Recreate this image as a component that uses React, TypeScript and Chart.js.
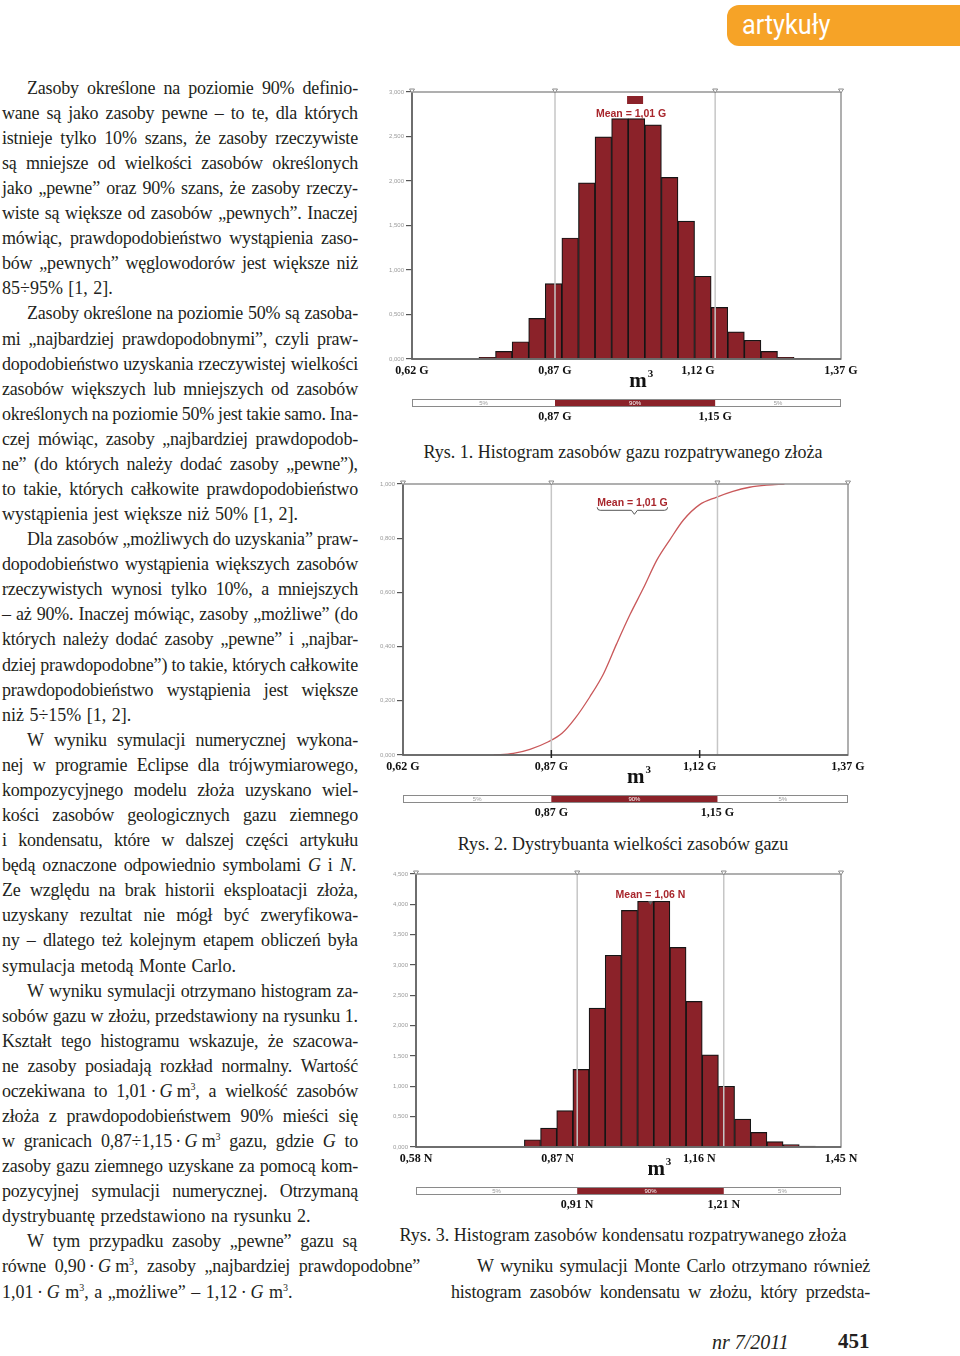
import React, { useEffect, useRef } from "react";
import { Chart, registerables } from "chart.js";
Chart.register(...registerables);

const BAR_RED = "#8B2229";
const MEAN_RED = "#A8262C";

// ---------- Rys. 1: histogram of gas resources ----------
const gasBinCenters = [0.7515, 0.7805, 0.8095, 0.8385, 0.8675, 0.8965, 0.9255, 0.9545, 0.9835, 1.0125, 1.0415, 1.0705, 1.0995, 1.1285, 1.1575, 1.1865, 1.2155, 1.2445, 1.2735, 1.3025];
const gasFrequencies = [0.02, 0.086, 0.194, 0.456, 0.848, 1.36, 1.98, 2.495, 2.7, 2.7, 2.63, 2.04, 1.55, 0.93, 0.58, 0.306, 0.21, 0.086, 0.02, 0.008];
const gasAxisTicks = [0.62, 0.87, 1.12, 1.37];
const gasPercentiles = [0.87, 1.15];
const gasMean = 1.01;
const gasYAxis = [0, 3, 0.5];

// ---------- Rys. 2: cumulative distribution of gas resources ----------
const cdfX = [0.773, 0.806, 0.834, 0.865, 0.888, 0.91, 0.935, 0.958, 0.98, 1.003, 1.025, 1.048, 1.07, 1.093, 1.12, 1.148, 1.176, 1.204, 1.233, 1.263];
const cdfY = [0.0, 0.006, 0.021, 0.049, 0.08, 0.135, 0.215, 0.3, 0.41, 0.52, 0.615, 0.72, 0.795, 0.868, 0.924, 0.951, 0.973, 0.988, 0.996, 1.0];
const cdfAxisTicks = [0.62, 0.87, 1.12, 1.37];
const cdfPercentiles = [0.87, 1.15];
const cdfInnerTicks = [0.87, 1.12];
const cdfMean = 1.01;
const cdfYAxis = [0, 1, 0.2];

// ---------- Rys. 3: histogram of condensate resources ----------
const condBinCenters = [0.8184, 0.8515, 0.8846, 0.9177, 0.9508, 0.9839, 1.017, 1.0501, 1.0832, 1.1163, 1.1494, 1.1825, 1.2156, 1.2487, 1.2818, 1.3149, 1.348, 1.3811];
const condFrequencies = [0.12, 0.31, 0.6, 1.28, 2.29, 3.16, 3.9, 4.05, 4.05, 3.29, 2.4, 1.52, 1.0, 0.46, 0.24, 0.088, 0.04, 0.015];
const condAxisTicks = [0.58, 0.87, 1.16, 1.45];
const condPercentiles = [0.91, 1.21];
const condMean = 1.06;
const condYAxis = [0, 4.5, 0.5];

const fmt = (v: number, d = 2) => Number(v).toFixed(d).replace(".", ",");

const decorPlugin = {
  id: "decor",
  afterDatasetsDraw(chart: any, _args: any, o: any) {
    const { ctx, chartArea: ca } = chart;
    const xs = chart.scales.x;
    const px = (v: number) => xs.getPixelForValue(v);
    const xLo = px(o.percentiles[0]);
    const xHi = px(o.percentiles[1]);
    ctx.save();
    // percentile lines
    ctx.strokeStyle = "#c6c6c6";
    ctx.lineWidth = 1.5;
    [xLo, xHi].forEach((x) => {
      ctx.beginPath();
      ctx.moveTo(x, ca.top);
      ctx.lineTo(x, ca.bottom);
      ctx.stroke();
    });
    // frame
    ctx.strokeStyle = "#959595";
    ctx.lineWidth = 1.5;
    ctx.strokeRect(ca.left, ca.top, ca.right - ca.left, ca.bottom - ca.top);
    ctx.strokeStyle = "#5a5a5a";
    ctx.beginPath();
    ctx.moveTo(ca.left, ca.top);
    ctx.lineTo(ca.left, ca.bottom);
    ctx.lineTo(ca.right, ca.bottom);
    ctx.stroke();
    // top markers
    ctx.lineWidth = 1;
    ctx.strokeStyle = "#8a8a8a";
    [ca.left, xLo, xHi, ca.right].forEach((x) => {
      ctx.beginPath();
      ctx.moveTo(x - 2.5, ca.top - 3);
      ctx.lineTo(x + 2.5, ca.top - 3);
      ctx.lineTo(x, ca.top + 1);
      ctx.closePath();
      ctx.fillStyle = "#fff";
      ctx.fill();
      ctx.stroke();
    });
    // inner ticks on x axis
    (o.innerTicks || []).forEach((v: number) => {
      const x = px(v);
      ctx.strokeStyle = "#222";
      ctx.lineWidth = 1.5;
      ctx.beginPath();
      ctx.moveTo(x, ca.bottom - 5);
      ctx.lineTo(x, ca.bottom + 3);
      ctx.stroke();
    });
    // mean label
    const mx = px(o.mean);
    const tx = mx + o.meanDx;
    ctx.font = 'bold 10.5px "Liberation Sans", Arial, sans-serif';
    ctx.textAlign = "center";
    ctx.textBaseline = "middle";
    ctx.fillStyle = MEAN_RED;
    ctx.fillText(o.meanText, tx, ca.top + o.meanDy);
    const tw = ctx.measureText(o.meanText).width;
    if (o.meanStyle === "box") {
      ctx.fillStyle = BAR_RED;
      ctx.fillRect(mx - 8, ca.top + 4, 16, 8);
    } else if (o.meanStyle === "brace") {
      const y = ca.top + o.meanDy + 7;
      const x0 = tx - tw / 2;
      const x1 = tx + tw / 2;
      ctx.strokeStyle = "#555";
      ctx.lineWidth = 1;
      ctx.beginPath();
      ctx.moveTo(x0, y - 3);
      ctx.quadraticCurveTo(x0, y, x0 + 3, y);
      ctx.lineTo(mx - 3, y);
      ctx.lineTo(mx, y + 4);
      ctx.lineTo(mx + 3, y);
      ctx.lineTo(x1 - 3, y);
      ctx.quadraticCurveTo(x1, y, x1, y - 3);
      ctx.stroke();
    } else if (o.meanStyle === "tick") {
      const y = ca.top + o.meanDy + 6;
      ctx.fillStyle = "#666";
      ctx.beginPath();
      ctx.moveTo(mx - 2.5, y);
      ctx.lineTo(mx + 2.5, y);
      ctx.lineTo(mx, y + 4);
      ctx.closePath();
      ctx.fill();
    }
    // m^3
    const mX = ca.left + (ca.right - ca.left) * o.mFrac;
    const mY = ca.bottom + 28;
    ctx.fillStyle = "#111";
    ctx.textBaseline = "alphabetic";
    ctx.font = 'bold 21px "Liberation Serif", "Times New Roman", serif';
    ctx.textAlign = "center";
    ctx.fillText("m", mX, mY);
    const mw = ctx.measureText("m").width;
    ctx.font = 'bold 11px "Liberation Serif", "Times New Roman", serif';
    ctx.textAlign = "left";
    ctx.fillText("3", mX + mw / 2 + 1, mY - 10);
    // percentile bar
    const by = ca.bottom + 40;
    const bh = 8;
    ctx.fillStyle = "#fff";
    ctx.fillRect(ca.left, by, ca.right - ca.left, bh);
    ctx.fillStyle = BAR_RED;
    ctx.fillRect(xLo, by, xHi - xLo, bh);
    ctx.strokeStyle = "#8a8a8a";
    ctx.lineWidth = 1;
    ctx.strokeRect(ca.left + 0.5, by + 0.5, ca.right - ca.left - 1, bh - 1);
    ctx.font = '6px "Liberation Sans", Arial, sans-serif';
    ctx.textAlign = "center";
    ctx.textBaseline = "middle";
    ctx.fillStyle = "#999";
    ctx.fillText("5%", (ca.left + xLo) / 2, by + bh / 2);
    ctx.fillText("5%", (xHi + ca.right) / 2, by + bh / 2);
    ctx.fillStyle = "#fff";
    ctx.fillText("90%", (xLo + xHi) / 2, by + bh / 2);
    ctx.fillStyle = "#111";
    ctx.font = 'bold 12px "Liberation Serif", "Times New Roman", serif';
    ctx.fillText(fmt(o.percentiles[0]) + " " + o.unit, xLo, ca.bottom + 58);
    ctx.fillText(fmt(o.percentiles[1]) + " " + o.unit, xHi, ca.bottom + 58);
    ctx.restore();
  },
};

function xAxis(ticksArr: number[], unit: string, height: number) {
  return {
    type: "linear",
    min: ticksArr[0],
    max: ticksArr[ticksArr.length - 1],
    offset: false,
    afterBuildTicks: (s: any) => {
      s.ticks = ticksArr.map((v) => ({ value: v }));
    },
    ticks: {
      autoSkip: false,
      maxRotation: 0,
      color: "#111",
      padding: 5,
      font: { family: '"Liberation Serif", "Times New Roman", serif', weight: "bold", size: 12 },
      callback: (v: number) => fmt(v) + " " + unit,
    },
    grid: { display: false, drawTicks: false, offset: false },
    border: { display: false },
    afterFit: (s: any) => {
      s.height = height;
      s.paddingLeft = 0;
      s.paddingRight = 0;
    },
  };
}

function yAxis(range: number[], width: number) {
  return {
    min: range[0],
    max: range[1],
    ticks: {
      stepSize: range[2],
      color: "#9a9a9a",
      padding: 2,
      font: { family: '"Liberation Sans", Arial, sans-serif', size: 6 },
      callback: (v: number) => fmt(v, 3),
    },
    grid: { drawOnChartArea: false, drawTicks: true, tickLength: 6, color: "#555", lineWidth: 1.2 },
    border: { display: false },
    afterFit: (s: any) => {
      s.width = width;
      s.paddingTop = 0;
      s.paddingBottom = 0;
    },
  };
}

function histConfig(centers: number[], freqs: number[], xTicks: number[], yRange: number[], unit: string, yWidth: number, pad: any, xHeight: number, decor: any) {
  return {
    type: "bar",
    data: {
      datasets: [
        {
          data: centers.map((c, i) => ({ x: c, y: freqs[i] })),
          backgroundColor: BAR_RED,
          borderColor: "#151515",
          borderWidth: 1.2,
          barPercentage: 1,
          categoryPercentage: 1,
        },
      ],
    },
    options: {
      responsive: true,
      maintainAspectRatio: false,
      animation: false,
      layout: { autoPadding: false, padding: pad },
      plugins: { legend: { display: false }, tooltip: { enabled: false }, decor },
      scales: { x: xAxis(xTicks, unit, xHeight), y: yAxis(yRange, yWidth) },
    },
    plugins: [decorPlugin],
  };
}

function cdfConfig() {
  return {
    type: "line",
    data: {
      datasets: [
        {
          data: cdfX.map((x, i) => ({ x, y: cdfY[i] })),
          borderColor: "#C9585A",
          borderWidth: 1.3,
          pointRadius: 0,
          fill: false,
          cubicInterpolationMode: "monotone",
        },
      ],
    },
    options: {
      responsive: true,
      maintainAspectRatio: false,
      animation: false,
      layout: { autoPadding: false, padding: { top: 14, right: 32, bottom: 0, left: 0 } },
      plugins: {
        legend: { display: false },
        tooltip: { enabled: false },
        decor: {
          percentiles: cdfPercentiles,
          innerTicks: cdfInnerTicks,
          mean: cdfMean,
          meanText: "Mean = " + fmt(cdfMean) + " G",
          meanStyle: "brace",
          meanDx: -2,
          meanDy: 19.3,
          mFrac: 0.523,
          unit: "G",
        },
      },
      scales: { x: xAxis(cdfAxisTicks, "G", 70), y: yAxis(cdfYAxis, 23) },
    },
    plugins: [decorPlugin],
  };
}

function ChartBox({ left, top, width, height, config }: any) {
  const ref = useRef<HTMLCanvasElement>(null);
  useEffect(() => {
    const c = new Chart(ref.current as HTMLCanvasElement, config);
    return () => c.destroy();
  }, []);
  return (
    <div style={{ position: "absolute", left, top, width, height }}>
      <canvas ref={ref} />
    </div>
  );
}

const ROW0 = 75.7;
const ROWH = 25.08;
// [row, left, width, justified, text]
const bodyLines: [number, number, number, boolean, string][] = [
  [0, 27, 331, true, "Zasoby określone na poziomie 90% definio-"],
  [1, 2, 356, true, "wane są jako zasoby pewne – to te, dla których"],
  [2, 2, 356, true, "istnieje tylko 10% szans, że zasoby rzeczywiste"],
  [3, 2, 356, true, "są mniejsze od wielkości zasobów określonych"],
  [4, 2, 356, true, "jako „pewne” oraz 90% szans, że zasoby rzeczy-"],
  [5, 2, 356, true, "wiste są większe od zasobów „pewnych”. Inaczej"],
  [6, 2, 356, true, "mówiąc, prawdopodobieństwo wystąpienia zaso-"],
  [7, 2, 356, true, "bów „pewnych” węglowodorów jest większe niż"],
  [8, 2, 356, false, "85÷95% [1, 2]."],
  [9, 27, 331, true, "Zasoby określone na poziomie 50% są zasoba-"],
  [10, 2, 356, true, "mi „najbardziej prawdopodobnymi”, czyli praw-"],
  [11, 2, 356, true, "dopodobieństwo uzyskania rzeczywistej wielkości"],
  [12, 2, 356, true, "zasobów większych lub mniejszych od zasobów"],
  [13, 2, 356, true, "określonych na poziomie 50% jest takie samo. Ina-"],
  [14, 2, 356, true, "czej mówiąc, zasoby „najbardziej prawdopodob-"],
  [15, 2, 356, true, "ne” (do których należy dodać zasoby „pewne”),"],
  [16, 2, 356, true, "to takie, których całkowite prawdopodobieństwo"],
  [17, 2, 356, false, "wystąpienia jest większe niż 50% [1, 2]."],
  [18, 27, 331, true, "Dla zasobów „możliwych do uzyskania” praw-"],
  [19, 2, 356, true, "dopodobieństwo wystąpienia większych zasobów"],
  [20, 2, 356, true, "rzeczywistych wynosi tylko 10%, a mniejszych"],
  [21, 2, 356, true, "– aż 90%. Inaczej mówiąc, zasoby „możliwe” (do"],
  [22, 2, 356, true, "których należy dodać zasoby „pewne” i „najbar-"],
  [23, 2, 356, true, "dziej prawdopodobne”) to takie, których całkowite"],
  [24, 2, 356, true, "prawdopodobieństwo wystąpienia jest większe"],
  [25, 2, 356, false, "niż 5÷15% [1, 2]."],
  [26, 27, 331, true, "W wyniku symulacji numerycznej wykona-"],
  [27, 2, 356, true, "nej w programie Eclipse dla trójwymiarowego,"],
  [28, 2, 356, true, "kompozycyjnego modelu złoża uzyskano wiel-"],
  [29, 2, 356, true, "kości zasobów geologicznych gazu ziemnego"],
  [30, 2, 356, true, "i kondensatu, które w dalszej części artykułu"],
  [31, 2, 354, true, "będą oznaczone odpowiednio symbolami _G_ i _N_."],
  [32, 2, 356, true, "Ze względu na brak historii eksploatacji złoża,"],
  [33, 2, 356, true, "uzyskany rezultat nie mógł być zweryfikowa-"],
  [34, 2, 356, true, "ny – dlatego też kolejnym etapem obliczeń była"],
  [35, 2, 356, false, "symulacja metodą Monte Carlo."],
  [36, 27, 331, true, "W wyniku symulacji otrzymano histogram za-"],
  [37, 2, 356, true, "sobów gazu w złożu, przedstawiony na rysunku 1."],
  [38, 2, 356, true, "Kształt tego histogramu wskazuje, że szacowa-"],
  [39, 2, 356, true, "ne zasoby posiadają rozkład normalny. Wartość"],
  [40, 2, 356, true, "oczekiwana to 1,01\u2009·\u2009_G_\u00a0m^3, a wielkość zasobów"],
  [41, 2, 356, true, "złoża z prawdopodobieństwem 90% mieści się"],
  [42, 2, 356, true, "w granicach 0,87÷1,15\u2009·\u2009_G_\u00a0m^3 gazu, gdzie _G_ to"],
  [43, 2, 356, true, "zasoby gazu ziemnego uzyskane za pomocą kom-"],
  [44, 2, 356, true, "pozycyjnej symulacji numerycznej. Otrzymaną"],
  [45, 2, 356, false, "dystrybuantę przedstawiono na rysunku 2."],
  [46, 27, 330, true, "W tym przypadku zasoby „pewne” gazu są"],
  [47, 2, 418, true, "równe 0,90\u2009·\u2009_G_\u00a0m^3, zasoby „najbardziej prawdopodobne”"],
  [48, 2, 356, false, "1,01\u2009·\u2009_G_\u00a0m^3, a „możliwe” – 1,12\u2009·\u2009_G_\u00a0m^3."],
  [47, 477, 393, true, "W wyniku symulacji Monte Carlo otrzymano również"],
  [48, 451, 419, true, "histogram zasobów kondensatu w złożu, który przedsta-"],
];

function rich(s: string) {
  const parts = s.split(/(_[A-Z]_|\^3)/);
  return parts.map((p, i) => {
    if (p === "^3")
      return (
        <span key={i} style={{ fontSize: 10, position: "relative", top: -7 }}>
          3
        </span>
      );
    if (/^_[A-Z]_$/.test(p)) return <i key={i}>{p[1]}</i>;
    return <React.Fragment key={i}>{p}</React.Fragment>;
  });
}

export default function App() {
  const serif = '"Liberation Serif", "Times New Roman", serif';
  const chart1 = histConfig(gasBinCenters, gasFrequencies, gasAxisTicks, gasYAxis, "G", 32, { top: 12, right: 39, bottom: 0, left: 0 }, 71, {
    percentiles: gasPercentiles,
    mean: gasMean,
    meanText: "Mean = " + fmt(gasMean) + " G",
    meanStyle: "box",
    meanDx: -4,
    meanDy: 21.7,
    mFrac: 0.527,
    unit: "G",
  });
  const chart3 = histConfig(condBinCenters, condFrequencies, condAxisTicks, condYAxis, "N", 36, { top: 14, right: 39, bottom: 0, left: 0 }, 73, {
    percentiles: condPercentiles,
    mean: condMean,
    meanText: "Mean = " + fmt(condMean) + " N",
    meanStyle: "tick",
    meanDx: 0,
    meanDy: 21,
    mFrac: 0.565,
    unit: "N",
  });
  const chart2 = cdfConfig();

  return (
    <div
      style={{
        position: "absolute",
        left: 0,
        top: 0,
        width: 960,
        height: 1356,
        overflow: "hidden",
        background: "#fff",
        fontFamily: serif,
        fontSize: 18,
        lineHeight: "25px",
        color: "#231f20",
      }}
    >
      {/* header tab */}
      <div
        style={{
          position: "absolute",
          left: 727,
          top: 5,
          width: 233,
          height: 41,
          background: "#F6A327",
          borderRadius: "12px 0 0 12px",
        }}
      >
        <div
          style={{
            position: "absolute",
            left: 15,
            top: 6,
            fontFamily: "Roboto, 'Liberation Sans', sans-serif",
            fontSize: 28,
            lineHeight: 1,
            color: "#fff",
            transform: "scaleX(0.9)",
            transformOrigin: "left",
            whiteSpace: "nowrap",
          }}
        >
          artykuły
        </div>
      </div>

      {bodyLines.map(([row, x, w, just, t], i) => {
        const top = ROW0 + row * ROWH;
        if (just) {
          return (
            <div
              key={i}
              style={{
                position: "absolute",
                left: x,
                top,
                width: w,
                height: 25,
                display: "flex",
                justifyContent: "space-between",
                alignItems: "baseline",
                whiteSpace: "pre",
                letterSpacing: "-0.2px",
              }}
            >
              {t.split(" ").map((word, j) => (
                <span key={j}>{rich(word)}</span>
              ))}
            </div>
          );
        }
        return (
          <div key={i} style={{ position: "absolute", left: x, top, whiteSpace: "pre", wordSpacing: "1px" }}>
            {rich(t)}
          </div>
        );
      })}

      <ChartBox left={380} top={80} width={500} height={350} config={chart1} />
      <ChartBox left={380} top={470} width={500} height={355} config={chart2} />
      <ChartBox left={380} top={860} width={500} height={360} config={chart3} />

      {/* captions */}
      <div style={{ position: "absolute", left: 323, top: 440, width: 600, textAlign: "center", whiteSpace: "pre" }}>
        Rys. 1. Histogram zasobów gazu rozpatrywanego złoża
      </div>
      <div style={{ position: "absolute", left: 323, top: 832, width: 600, textAlign: "center", whiteSpace: "pre" }}>
        Rys. 2. Dystrybuanta wielkości zasobów gazu
      </div>
      <div style={{ position: "absolute", left: 323, top: 1222.5, width: 600, textAlign: "center", whiteSpace: "pre" }}>
        Rys. 3. Histogram zasobów kondensatu rozpatrywanego złoża
      </div>

      {/* footer */}
      <div style={{ position: "absolute", left: 712, top: 1332, fontSize: 20, lineHeight: 1, fontStyle: "italic", whiteSpace: "pre" }}>
        nr 7/2011
      </div>
      <div style={{ position: "absolute", left: 838, top: 1331.4, fontSize: 21, lineHeight: 1, fontWeight: "bold", whiteSpace: "pre" }}>
        451
      </div>
    </div>
  );
}
